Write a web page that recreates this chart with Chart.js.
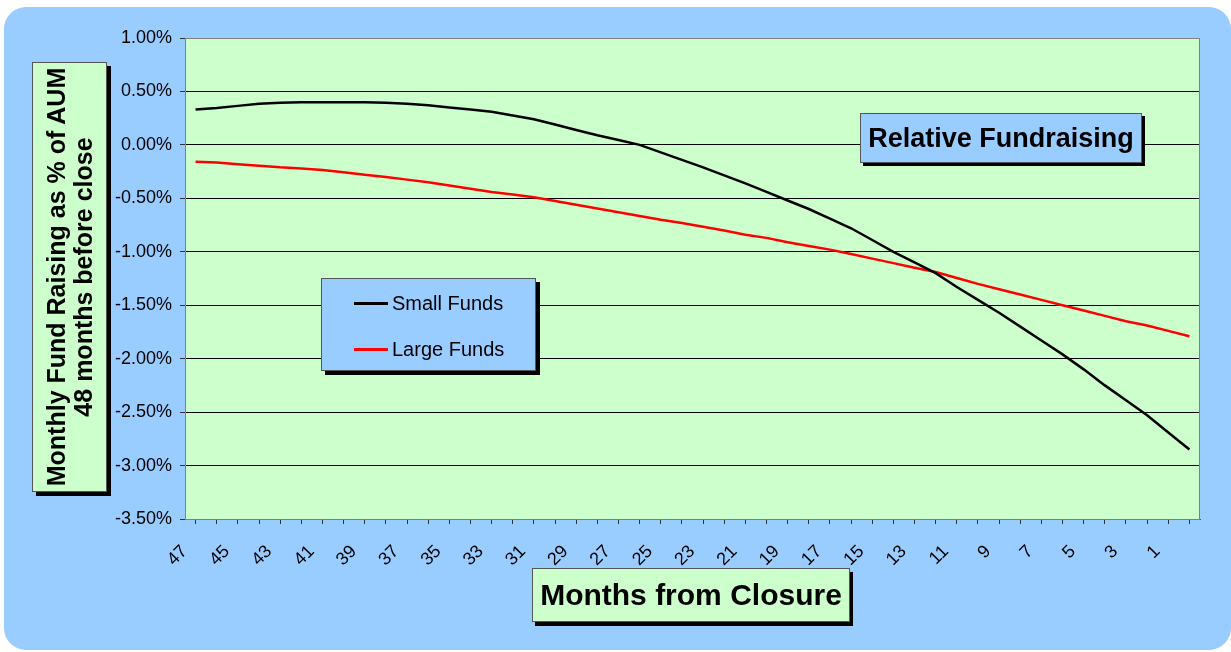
<!DOCTYPE html>
<html>
<head>
<meta charset="utf-8">
<title>Relative Fundraising</title>
<script src="https://cdn.jsdelivr.net/npm/chart.js@4.4.1/dist/chart.umd.min.js"></script>
<style>
  html, body { margin: 0; padding: 0; background: #fff; }
  #wrap { position: relative; width: 1231px; height: 652px; overflow: hidden; }
  #frame { position: absolute; left: 4px; top: 7px; width: 1227px; height: 643px;
           background: #99CCFF; border-radius: 22px; }
  canvas { position: absolute; left: 0; top: 0; }
  .box { position: absolute; box-sizing: border-box; border: 1px solid #555;
         box-shadow: 4px 4px 0 #000; font-family: "Liberation Sans", Arial, sans-serif;
         color: #000; }
  #title { left: 860px; top: 113px; width: 282px; height: 50px; background: #99CCFF;
           font-weight: bold; font-size: 27px; line-height: 48px; text-align: center;
           box-shadow: 3px 3px 0 #000; }
  #xTitle { left: 532px; top: 568px; width: 318px; height: 54px; background: #CCFFCC;
            font-weight: bold; font-size: 30px; line-height: 52px; text-align: center;
            box-shadow: 3px 4px 0 #000; }
  #yTitle { left: 32px; top: 62px; width: 75px; height: 430px; background: #CCFFCC; }
  #yTitle div { position: absolute; left: 50%; top: 50%; width: 430px;
                transform: translate(-50%, -50%) rotate(-90deg);
                font-weight: bold; font-size: 25px; line-height: 27px; text-align: center;
                white-space: nowrap; }
  #legend { left: 321px; top: 278px; width: 215px; height: 93px; background: #99CCFF; }
  #legend .item { position: absolute; left: 32px; height: 24px; font-size: 20px; line-height: 24px; }
  #legend .item span { display: inline-block; width: 34px; height: 3px; vertical-align: middle;
                       margin-right: 4px; position: relative; top: -1px; }
</style>
</head>
<body>
<div id="wrap">
  <div id="frame"></div>
  <canvas id="chart" width="1231" height="652"></canvas>
  <div class="box" id="yTitle"><div>Monthly Fund Raising as % of AUM<br>48 months before close</div></div>
  <div class="box" id="title">Relative Fundraising</div>
  <div class="box" id="legend"></div>
  <div class="box" id="xTitle">Months from Closure</div>
</div>
<script>
// months before closure, 47 down to 0
var months = [];
for (var m = 47; m >= 0; m--) months.push(String(m));

// monthly fund raising, % of AUM
var smallFunds = [
  0.33, 0.345, 0.365, 0.385, 0.395, 0.40, 0.40, 0.40, 0.40, 0.395, 0.385, 0.37,
  0.35, 0.33, 0.31, 0.275, 0.24, 0.19, 0.14, 0.09, 0.045, 0.0, -0.07, -0.14,
  -0.21, -0.285, -0.36, -0.44, -0.52, -0.60, -0.69, -0.78, -0.89, -1.00, -1.10, -1.20,
  -1.33, -1.45, -1.57, -1.70, -1.83, -1.96, -2.10, -2.25, -2.39, -2.53, -2.69, -2.85
];
var largeFunds = [
  -0.157, -0.165, -0.18, -0.195, -0.21, -0.22, -0.235, -0.255, -0.28, -0.30, -0.325, -0.35,
  -0.38, -0.41, -0.44, -0.465, -0.49, -0.525, -0.56, -0.595, -0.63, -0.665, -0.70, -0.73,
  -0.765, -0.80, -0.84, -0.87, -0.91, -0.945, -0.98, -1.02, -1.064, -1.106, -1.15, -1.19,
  -1.245, -1.30, -1.35, -1.40, -1.45, -1.50, -1.55, -1.60, -1.65, -1.69, -1.74, -1.79
];

var yMin = -3.5, yMax = 1.0, yStep = 0.5;

var plotArea = {
  id: 'plotArea',
  beforeDraw: function (chart) {
    var a = chart.chartArea, ctx = chart.ctx;
    ctx.save();
    ctx.fillStyle = '#CCFFCC';
    ctx.fillRect(a.left, a.top, a.right - a.left, a.bottom - a.top);
    ctx.restore();
  },
  beforeDatasetsDraw: function (chart) {
    var a = chart.chartArea, ctx = chart.ctx;
    ctx.save();
    ctx.strokeStyle = '#808080';
    ctx.lineWidth = 1;
    ctx.strokeRect(a.left + 0.5, a.top + 0.5, a.right - a.left - 1, a.bottom - a.top);
    ctx.restore();
  }
};

var font = '"Liberation Sans", Arial, sans-serif';

var chart = new Chart(document.getElementById('chart'), {
  type: 'line',
  data: {
    labels: months,
    datasets: [{
      label: 'Small Funds',
      data: smallFunds,
      borderColor: '#000000',
      borderWidth: 2.5,
      pointRadius: 0,
      tension: 0
    }, {
      label: 'Large Funds',
      data: largeFunds,
      borderColor: '#FF0000',
      borderWidth: 2.5,
      pointRadius: 0,
      tension: 0
    }]
  },
  options: {
    responsive: false,
    animation: false,
    devicePixelRatio: 1,
    layout: { padding: { left: 0, top: 38, right: 31, bottom: 0 } },
    plugins: { legend: { display: false }, tooltip: { enabled: false } },
    scales: {
      x: {
        type: 'category',
        offset: true,
        grid: { drawOnChartArea: false, drawTicks: true, tickLength: 5, tickColor: '#333' },
        border: { color: '#555', width: 1 },
        ticks: {
          autoSkip: false,
          minRotation: 45,
          maxRotation: 45,
          padding: 17,
          labelOffset: -11,
          color: '#000',
          font: { family: font, size: 18 },
          callback: function (v, i) { return i % 2 === 0 ? this.getLabelForValue(v) : ''; }
        },
        afterFit: function (s) { s.height = 133; }
      },
      y: {
        min: yMin,
        max: yMax,
        grid: {
          color: function (c) { return c.tick && c.tick.value === yMax ? '#808080' : '#000'; },
          lineWidth: 1,
          tickLength: 5,
          tickColor: '#333'
        },
        border: { color: '#555', width: 1 },
        ticks: {
          stepSize: yStep,
          padding: 8,
          color: '#000',
          font: { family: font, size: 18 },
          callback: function (v) { return v.toFixed(2) + '%'; }
        },
        afterFit: function (s) { s.width = 185; }
      }
    }
  },
  plugins: [plotArea]
});

// legend box built from the datasets
var legend = document.getElementById('legend');
chart.data.datasets.forEach(function (ds, i) {
  var item = document.createElement('div');
  item.className = 'item';
  item.style.top = (12 + i * 46) + 'px';
  item.innerHTML = '<span style="background:' + ds.borderColor + '"></span>' + ds.label;
  legend.appendChild(item);
});
</script>
</body>
</html>
